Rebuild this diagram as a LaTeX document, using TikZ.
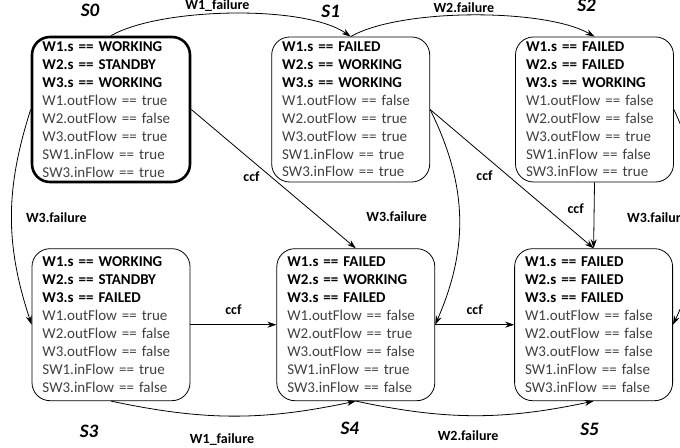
\documentclass[tikz,border=0pt]{standalone}
\usepackage{fontspec}
\setmainfont{Carlito}
\usepackage{tikz}
\usepackage{xcolor}
\usetikzlibrary{arrows.meta, positioning}

\definecolor{flowgray}{HTML}{404040}
\newcommand{\stline}[1]{\textcolor{black}{\textbf{#1}}}

\begin{document}
\begin{tikzpicture}[
    x=1bp, y=1bp,
    every node/.style={align=center},
    statebox/.style={rectangle, rounded corners=18bp, draw=black, line width=0.8bp, text width=137bp, inner xsep=10.5bp, inner ysep=2bp, minimum height=145bp, align=left, text=flowgray, font=\fontsize{15bp}{17.9bp}\selectfont},
    startbox/.style={statebox, line width=2.6bp},
    statename/.style={inner sep=0pt, font=\fontsize{19bp}{22bp}\selectfont\bfseries\itshape},
    edgelabel/.style={inner sep=2bp, font=\fontsize{14bp}{16bp}\selectfont\bfseries},
    arrow/.style={line width=0.8bp, -{Stealth[length=9bp, width=6bp]}}
]
\useasboundingbox (0,0) rectangle (680,448);

% Top row
\node (s0) [startbox] at (111,338.5) {\stline{W1.s == WORKING}\\ \stline{W2.s == STANDBY}\\ \stline{W3.s == WORKING}\\ W1.outFlow == true\\ W2.outFlow == false\\ W3.outFlow == true\\ SW1.inFlow == true\\ SW3.inFlow == true};
\node (s1) [statebox, right=80bp of s0] {\stline{W1.s == FAILED}\\ \stline{W2.s == WORKING}\\ \stline{W3.s == WORKING}\\ W1.outFlow == false\\ W2.outFlow == true\\ W3.outFlow == true\\ SW1.inFlow == true\\ SW3.inFlow == true};
\node (s2) [statebox, right=85bp of s1] {\stline{W1.s == FAILED}\\ \stline{W2.s == FAILED}\\ \stline{W3.s == WORKING}\\ W1.outFlow == false\\ W2.outFlow == false\\ W3.outFlow == true\\ SW1.inFlow == false\\ SW3.inFlow == true};

% Bottom row
\node (s3) [statebox, minimum height=152bp, below=65bp of s0] {\stline{W1.s == WORKING}\\ \stline{W2.s == STANDBY}\\ \stline{W3.s == FAILED}\\ W1.outFlow == true\\ W2.outFlow == false\\ W3.outFlow == false\\ SW1.inFlow == true\\ SW3.inFlow == false};
\node (s4) [statebox, minimum height=152bp, right=86bp of s3] {\stline{W1.s == FAILED}\\ \stline{W2.s == WORKING}\\ \stline{W3.s == FAILED}\\ W1.outFlow == false\\ W2.outFlow == true\\ W3.outFlow == false\\ SW1.inFlow == true\\ SW3.inFlow == false};
\node (s5) [statebox, minimum height=152bp, right=79bp of s4] {\stline{W1.s == FAILED}\\ \stline{W2.s == FAILED}\\ \stline{W3.s == FAILED}\\ W1.outFlow == false\\ W2.outFlow == false\\ W3.outFlow == false\\ SW1.inFlow == false\\ SW3.inFlow == false};

% State names
\node (n0) [statename, above=19bp of s0.north, xshift=-21bp] {S0};
\node (n1) [statename, above=19bp of s1.north, xshift=-20bp] {S1};
\node (n2) [statename, above=25bp of s2.north, xshift=-8bp] {S2};
\node (n3) [statename, below=24bp of s3.south, xshift=-22bp] {S3};
\node (n4) [statename, below=21bp of s4.south, xshift=-6bp] {S4};
\node (n5) [statename, below=22bp of s5.south, xshift=-4bp] {S5};

% Transitions
\draw [arrow] (s0.north) to[out=30, in=145, looseness=0.6] node[edgelabel, pos=0.45, above] (e1) {W1\_failure} (s1.north);
\draw [arrow] (s1.north) to[out=30, in=150, looseness=0.6] node[edgelabel, pos=0.47, above] (e2) {W2.failure} (s2.north);
\draw [arrow] (s0.west) to[bend right=18] node[edgelabel, midway, right=12bp] (e3) {W3.failure} (s3.west);
\draw [arrow] (s0.east) -- node[edgelabel, pos=0.43, below left] (e4) {ccf} (s4.north);
\draw [arrow] (s1.east) to[bend left=25] node[edgelabel, midway, left=30bp] (e5) {W3.failure} (s4.east);
\draw [arrow] (s1.east) -- node[edgelabel, pos=0.41, below left=3bp] (e6) {ccf} (s5.north);
\draw [arrow] (s2.south) -- node[edgelabel, pos=0.4, left=8bp] (e7) {ccf} (s5.north);
\draw [arrow] (s2.east) to[bend left=25] node[edgelabel, midway, left=10bp] (e8) {W3.failure} (s5.east);
\draw [arrow] (s3.east) -- node[edgelabel, midway, above=8bp] (e9) {ccf} (s4.west);
\draw [arrow] (s4.east) -- node[edgelabel, midway, above=8bp] (e10) {ccf} (s5.west);
\draw [arrow] (s3.south) to[bend right=12] node[edgelabel, pos=0.45, below=15bp] (e11) {W1\_failure} (s4.south);
\draw [arrow] (s4.south) to[bend right=12] node[edgelabel, pos=0.47, below=13bp] (e12) {W2.failure} (s5.south);

\end{tikzpicture}
\end{document}
